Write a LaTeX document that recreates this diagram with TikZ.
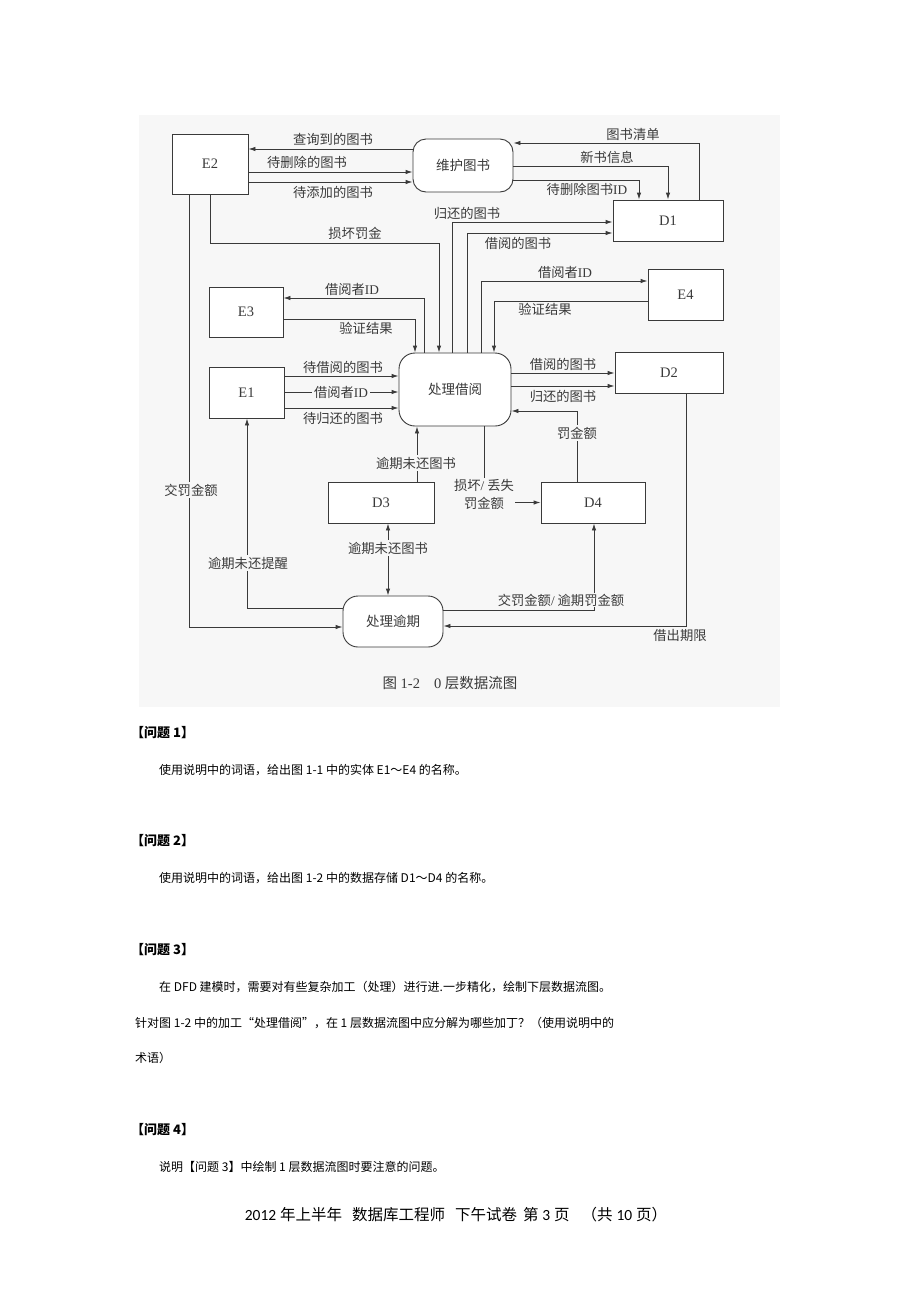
\documentclass[tikz,border=0pt]{standalone}
\usepackage{fontspec}
\setmainfont{Liberation Serif}
\newfontfamily\cjk{Noto Sans CJK SC}
\newfontfamily\lat{Liberation Serif}
\newfontfamily\foot{Carlito}
\usetikzlibrary{arrows.meta}
\definecolor{bg}{HTML}{F7F7F7}
\definecolor{ink}{HTML}{3A3A3A}
\tikzset{
  ebox/.style={draw=ink, line width=0.9pt, fill=white, inner sep=0pt, font=\lat\fontsize{14.5}{16}\selectfont, text=ink},
  proc/.style={ebox, rounded corners=14pt, font=\cjk\fontsize{13.5}{16}\selectfont},
  arr/.style={draw=ink, line width=0.9pt, -{Latex[length=7pt,width=4.5pt]}},
  arrb/.style={draw=ink, line width=0.9pt, {Latex[length=7pt,width=4.5pt]}-{Latex[length=7pt,width=4.5pt]}},
  ln/.style={draw=ink, line width=0.9pt},
  lbl/.style={inner sep=1pt, text=ink, font=\cjk\fontsize{13.3}{18}\selectfont},
  lblf/.style={lbl, fill=bg, inner sep=2pt},
  body/.style={anchor=west, inner sep=0pt, font=\cjk\fontsize{12}{14}\selectfont},
  head/.style={body, font=\cjk\bfseries\fontsize{13}{14}\selectfont}
}
\begin{document}
\begin{tikzpicture}[x=1pt,y=-1pt]
\useasboundingbox (0,0) rectangle (920,1302);
\fill[white] (0,0) rectangle (920,1302);
\fill[bg] (139,115) rectangle (780,707);

% nodes
\node[ebox, minimum width=76pt, minimum height=60pt] (E2) at (210,164) {E2};
\node[proc, minimum width=100pt, minimum height=53pt, rounded corners=13pt] (WH) at (463,165.5) {维护图书};
\node[ebox, minimum width=110pt, minimum height=41pt] (D1) at (668,220.5) {D1};
\node[ebox, minimum width=74pt, minimum height=50pt] (E3) at (246,312) {E3};
\node[ebox, minimum width=75pt, minimum height=51pt] (E4) at (685.5,294.5) {E4};
\node[proc, minimum width=112pt, minimum height=73pt, rounded corners=16pt] (JY) at (455,389.5) {处理借阅};
\node[ebox, minimum width=108pt, minimum height=41pt] (D2) at (669,372.5) {D2};
\node[ebox, minimum width=75pt, minimum height=51pt] (E1) at (246.5,392.5) {E1};
\node[ebox, minimum width=106pt, minimum height=41pt] (D3) at (381,502.5) {D3};
\node[ebox, minimum width=104pt, minimum height=41pt] (D4) at (593,502.5) {D4};
\node[proc, minimum width=100pt, minimum height=51pt, rounded corners=15pt] (YQ) at (393,621.5) {处理逾期};

% corner coordinates
\coordinate (c1) at (439,243);
\coordinate (c2) at (189,627);
\coordinate (c3) at (415,319);
\coordinate (c4) at (424,298);
\coordinate (c5) at (452,222);
\coordinate (c6) at (467,233);
\coordinate (c7) at (481,281);
\coordinate (c8) at (494,301);
\coordinate (c9) at (577,411);
\coordinate (c10) at (686,626);
\coordinate (c11) at (247,608);
\coordinate (c12) at (594,610);
\coordinate (c13) at (699,143);
\coordinate (c14) at (668,166);
\coordinate (c15) at (639,180);

% E2 <-> WH
\draw[arr] (WH.west |- 0,149) -- (E2.east |- 0,149);
\draw[arr] (E2.east |- 0,172) -- (WH.west |- 0,172);
\draw[arr] (E2.east |- 0,182) -- (WH.west |- 0,182);
\node[lbl] (l1) at (333,139) {查询到的图书};
\node[lbl] (l2) at (307,162) {待删除的图书};
\node[lbl] (l3) at (333,192) {待添加的图书};

% WH <-> D1
\draw[arr] (D1.north -| c13) -- (c13) -- (c13 -| WH.east);
\draw[arr] (WH.east |- c14) -- (c14) -- (c14 |- D1.north);
\draw[arr] (WH.east |- c15) -- (c15) -- (c15 |- D1.north);
\node[lbl] (l4) at (633,134) {图书清单};
\node[lbl] (l5) at (607,157) {新书信息};
\node[lbl] (l6) at (587,189) {待删除图书{\lat ID}};

% E2 -> JY, E2 -> YQ
\draw[arr] (E2.south) |- (c1) -- (c1 |- JY.north);
\node[lbl] (l7) at (355,233) {损坏罚金};
\draw[arr] (E2.south -| c2) -- (c2) -- (c2 -| YQ.west);
\node[lblf] (l8) at (191,490) {交罚金额};

% E3 <-> JY
\draw[arr] (E3.east |- c3) -- (c3) -- (c3 |- JY.north);
\draw[arr] (JY.north -| c4) -- (c4) -- (c4 -| E3.east);
\node[lbl] (l9) at (352,289) {借阅者{\lat ID}};
\node[lbl] (l10) at (366,328) {验证结果};

% JY -> D1
\draw[arr] (JY.north -| c5) -- (c5) -- (c5 -| D1.west);
\draw[arr] (JY.north -| c6) -- (c6) -- (c6 -| D1.west);
\node[lbl] (l11) at (467,213) {归还的图书};
\node[lbl] (l12) at (518,243) {借阅的图书};

% JY <-> E4
\draw[arr] (JY.north -| c7) -- (c7) -- (c7 -| E4.west);
\draw[arr] (E4.west |- c8) -- (c8) -- (c8 |- JY.north);
\node[lbl] (l13) at (565,272) {借阅者{\lat ID}};
\node[lbl] (l14) at (545,309) {验证结果};

% JY -> D2
\draw[arr] (JY.east |- 0,373) -- (D2.west |- 0,373);
\draw[arr] (JY.east |- 0,386) -- (D2.west |- 0,386);
\node[lbl] (l15) at (563,364) {借阅的图书};
\node[lbl] (l16) at (563,396) {归还的图书};

% D4 -> JY
\draw[arr] (D4.north -| c9) -- (c9) -- (c9 -| JY.east);
\node[lblf] (l17) at (577,433) {罚金额};

% D2 -> YQ
\draw[arr] (D2.south -| c10) -- (c10) -- (c10 -| YQ.east);
\node[lbl] (l18) at (680,635) {借出期限};

% E1 -> JY
\draw[arr] (E1.east |- 0,376) -- (JY.west |- 0,376);
\draw[arr] (E1.east |- 0,392) -- (JY.west |- 0,392);
\draw[arr] (E1.east |- 0,408) -- (JY.west |- 0,408);
\node[lbl] (l19) at (343,367) {待借阅的图书};
\node[lblf] (l20) at (341,392) {借阅者{\lat ID}};
\node[lbl] (l21) at (343,418) {待归还的图书};

% YQ -> E1
\draw[arr] (YQ.west |- c11) -- (c11) -- (c11 |- E1.south);
\node[lblf] (l22) at (248,563) {逾期未还提醒};

% D3 <-> JY, D3 <-> YQ
\draw[arr] (D3.north -| 417,0) -- (JY.south -| 417,0);
\node[lblf] (l23) at (416,463) {逾期未还图书};
\draw[arrb] (D3.south -| 388,0) -- (YQ.north -| 388,0);
\node[lblf] (l24) at (388,548) {逾期未还图书};

% JY -> D4
\node[lbl, align=center, inner sep=1pt] (l25) at (484,494) {损坏{\lat /} 丢失\\罚金额};
\draw[ln] (JY.south -| l25.north) -- (l25.north);
\draw[arr] (l25.east |- D4.west) -- (D4.west);

% YQ -> D4
\draw[arr] (YQ.east |- c12) -- (c12) -- (c12 |- D4.south);
\node[lbl, fill=bg, inner sep=0.5pt] (l26) at (561,600) {交罚金额{\lat /} 逾期罚金额};

% caption
\node[inner sep=0pt, text=ink, font=\fontsize{14.5}{16}\selectfont] (cap) at (450,683) {{\cjk 图} 1-2\hspace{14pt}0 {\cjk 层数据流图}};

% body text
\node[head] (h1) at (131,733) {【问题 1】};
\node[body] (t1) at (159,770) {使用说明中的词语，给出图 1-1 中的实体 E1～E4 的名称。};
\node[head] (h2) at (131,841) {【问题 2】};
\node[body] (t2) at (159,878) {使用说明中的词语，给出图 1-2 中的数据存储 D1～D4 的名称。};
\node[head] (h3) at (131,950) {【问题 3】};
\node[body] (t3) at (159,987) {在 DFD 建模时，需要对有些复杂加工（处理）进行进.一步精化，绘制下层数据流图。};
\node[body] (t4) at (135,1023) {针对图 1-2 中的加工“处理借阅”，在 1 层数据流图中应分解为哪些加丁？（使用说明中的};
\node[body] (t5) at (135,1058) {术语）};
\node[head] (h4) at (131,1130) {【问题 4】};
\node[body] (t6) at (159,1167) {说明【问题 3】中绘制 1 层数据流图时要注意的问题。};

% footer
\node[inner sep=0pt, font=\fontsize{15.5}{17}\selectfont] (ft) at (456,1215) {{\foot 2012} {\cjk 年上半年}\hspace{10pt}{\cjk 数据库工程师}\hspace{10pt}{\cjk 下午试卷}\hspace{6pt}{\cjk 第} {\foot 3} {\cjk 页}\hspace{12pt}{\cjk （共} {\foot 10} {\cjk 页）}};
\end{tikzpicture}
\end{document}
